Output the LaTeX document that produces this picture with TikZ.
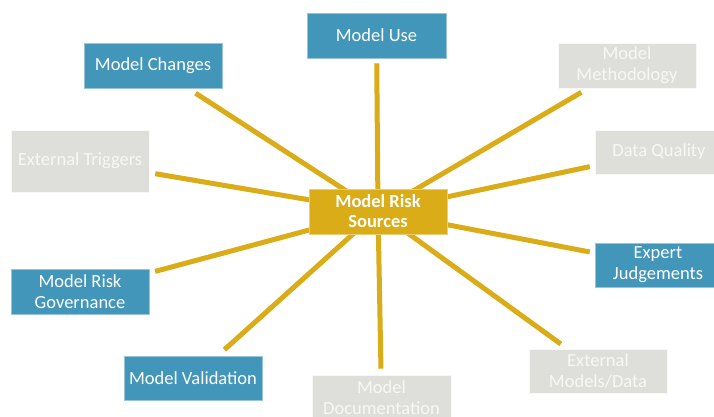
\documentclass[tikz,border=0pt]{standalone}
\usepackage{fontspec}
\setmainfont{Carlito}
\definecolor{mblue}{HTML}{4296BA}
\definecolor{mgold}{HTML}{D9AC18}
\definecolor{mgray}{HTML}{DEDEDA}
\definecolor{mgtext}{HTML}{F7F7F5}
\pgfdeclarelayer{bg}
\pgfsetlayers{bg,main}
\tikzset{
  box/.style={rectangle, inner sep=0pt, align=center, minimum width=138pt, minimum height=45pt,
    font=\fontsize{18.5}{21}\selectfont},
  bluebox/.style={box, fill=mblue, draw=mblue!55!white, line width=0.6pt, text=white},
  graybox/.style={box, fill=mgray, draw=white!80!mgray, line width=0.6pt, text=mgtext},
  hubbox/.style={box, fill=mgold, draw=mgold!60!white, line width=0.6pt, text=white, font=\fontsize{18.5}{20}\selectfont\bfseries},
  spoke/.style={draw=mgold, line width=5pt}
}
\begin{document}
\begin{tikzpicture}[x=1pt,y=-1pt]
\clip (0,0) rectangle (714,416);
\node[hubbox] (hub) at (378,211.5) {Model Risk\\Sources};
\node[bluebox, minimum width=139pt] (use) at (376.5,35.5) {Model Use};
\node[bluebox] (chg) at (153,65.5) {Model Changes};
\node[graybox] (meth) at (627,65.5) {Model\\Methodology};
\node[graybox, minimum height=62pt] (trig) at (80,161) {External Triggers};
\node[graybox, minimum width=128pt, minimum height=44pt] (dq) at (659,152) {Data Quality};
\node[bluebox, minimum width=126pt, minimum height=44pt] (exp) at (658,265) {Expert\\Judgements};
\node[bluebox] (gov) at (80,291.5) {Model Risk\\Governance};
\node[bluebox, minimum height=44pt] (val) at (193,378) {Model Validation};
\node[graybox, minimum width=139pt] (doc) at (381.5,397.5) {Model\\Documentation};
\node[graybox, minimum height=44pt] (ext) at (598,371) {External\\Models/Data};
\begin{pgfonlayer}{bg}
\fill[white] (0,0) rectangle (714,416);
\draw[spoke, shorten >=5pt] (hub.center) -- (use);
\draw[spoke, shorten >=9pt] (hub.center) -- (chg);
\draw[spoke, shorten >=8pt] (hub.center) -- (meth);
\draw[spoke, shorten >=6pt] (hub.center) -- (trig);
\draw[spoke, shorten >=5pt] (hub.center) -- (dq);
\draw[spoke, shorten >=5pt] (hub.center) -- (exp);
\draw[spoke, shorten >=6pt] (hub.center) -- (gov);
\draw[spoke, shorten >=9pt] (hub.center) -- (val);
\draw[spoke, shorten >=6pt] (hub.center) -- (doc);
\draw[spoke, shorten >=8pt] (hub.center) -- (ext);
\end{pgfonlayer}
\end{tikzpicture}
\end{document}
